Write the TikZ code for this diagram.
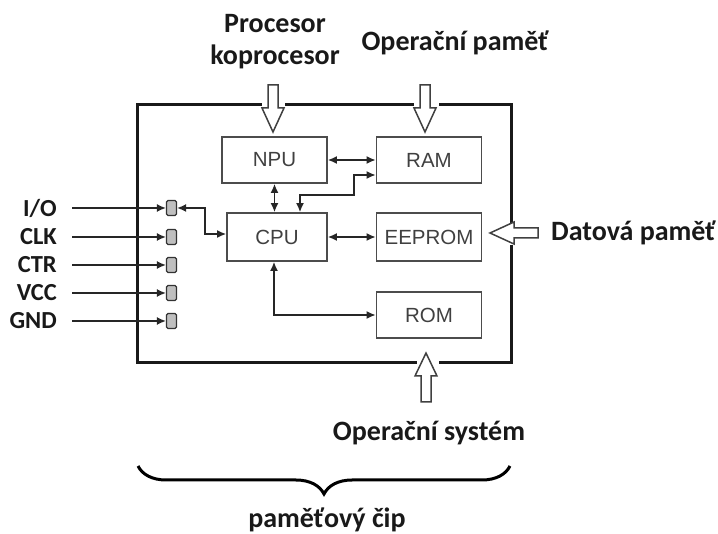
\documentclass[tikz,border=0pt]{standalone}
\usepackage{fontspec}
\setmainfont{Carlito}
\newfontfamily\boxfont{Liberation Sans}
\usetikzlibrary{arrows.meta,decorations.pathreplacing}
\begin{document}
\begin{tikzpicture}[x=1pt,y=-1pt,
  lbl/.style={font=\fontsize{28}{32}\selectfont\bfseries, text=black!90, inner sep=0pt},
  pinlbl/.style={font=\fontsize{24.5}{28}\selectfont\bfseries, text=black!90, inner sep=0pt, anchor=east},
  blk/.style={draw=black!70, line width=1.8pt, minimum width=105pt, minimum height=46pt, inner sep=0pt,
    font=\boxfont\fontsize{20.5}{24}\selectfont, text=black!75},
  pinbox/.style={draw=black!80, fill=black!25, line width=1.2pt, minimum width=10pt, minimum height=15pt,
    inner sep=0pt, rounded corners=1.5pt},
  tip/.tip={Latex[length=9pt,width=8pt]},
  dbl/.style={line width=1.4pt, draw=black!85, tip-tip},
  pinarrow/.style={line width=1.4pt, draw=black!85, -tip},
  chip/.style={line width=3pt, draw=black!90, line cap=rect},
  hollow/.style={line width=1.5pt, draw=black!75, fill=white, line join=miter},
]
\useasboundingbox (0,0) rectangle (718,534);

% chip border with gaps
\draw[chip] (260,105) -- (137,105) -- (137,363) -- (415,363);
\draw[chip] (286,105) -- (412,105);
\draw[chip] (440,105) -- (511,105) -- (511,222);
\draw[chip] (511,247) -- (511,363) -- (440,363);

% hollow arrows
\draw[hollow] (268,85) -- (268,108) -- (262,108) -- (273,132) -- (284,108) -- (278,108) -- (278,85) -- cycle;
\draw[hollow] (420,85) -- (420,108) -- (414,108) -- (425,132) -- (436,108) -- (430,108) -- (430,85) -- cycle;
\draw[hollow] (538,228) -- (514,228) -- (514,222) -- (490,233) -- (514,244) -- (514,238) -- (538,238) -- cycle;
\draw[hollow] (421,402) -- (421,376) -- (415,376) -- (426,353) -- (437,376) -- (431,376) -- (431,402) -- cycle;

% blocks
\node[blk] (npu) at (274.5,160) {NPU};
\node[blk] (ram) at (429,160) {RAM};
\node[blk, minimum width=100pt, minimum height=48pt] (cpu) at (277,237) {CPU};
\node[blk, minimum height=48pt] (eeprom) at (429,237) {EEPROM};
\node[blk] (rom) at (429,315) {ROM};

% pins
\foreach \n/\y/\t in {io/208/{I/O}, clk/237/CLK, ctr/265/CTR, vcc/293/VCC, gnd/321/GND}{
  \node[pinbox] (p\n) at (171.5,\y) {};
  \coordinate (s\n) at (72,\y);
  \node[pinlbl] (l\n) at (57,\y) {\t};
  \draw[pinarrow] (s\n) -- (p\n.west);
}

% connectors
\draw[dbl] (pio.east) -- ++(28,0) |- ([yshift=3pt]cpu.west);
\draw[dbl] (npu.east) -- (ram.west);
\draw[dbl] ([yshift=-15pt]ram.west) -| (354,195) -| ([xshift=23pt]cpu.north);
\draw[dbl] (npu.south) -- (npu.south |- cpu.north);
\draw[dbl] (cpu.east) -- (eeprom.west);
\draw[dbl] ([xshift=-3pt]cpu.south) |- (rom.west);

% labels
\node[lbl, align=center] (proc) at (275,42) {Procesor\\koprocesor};
\node[lbl] (opmem) at (455,43) {Operační paměť};
\node[lbl, anchor=west] (datmem) at (551,233) {Datová paměť};
\node[lbl] (os) at (429,433) {Operační systém};
\node[lbl] (chiplbl) at (327,520) {paměťový čip};

% brace
\draw[line width=3pt, decorate, decoration={brace, mirror, amplitude=28pt}] (138,466) -- (510,466);
\end{tikzpicture}
\end{document}
